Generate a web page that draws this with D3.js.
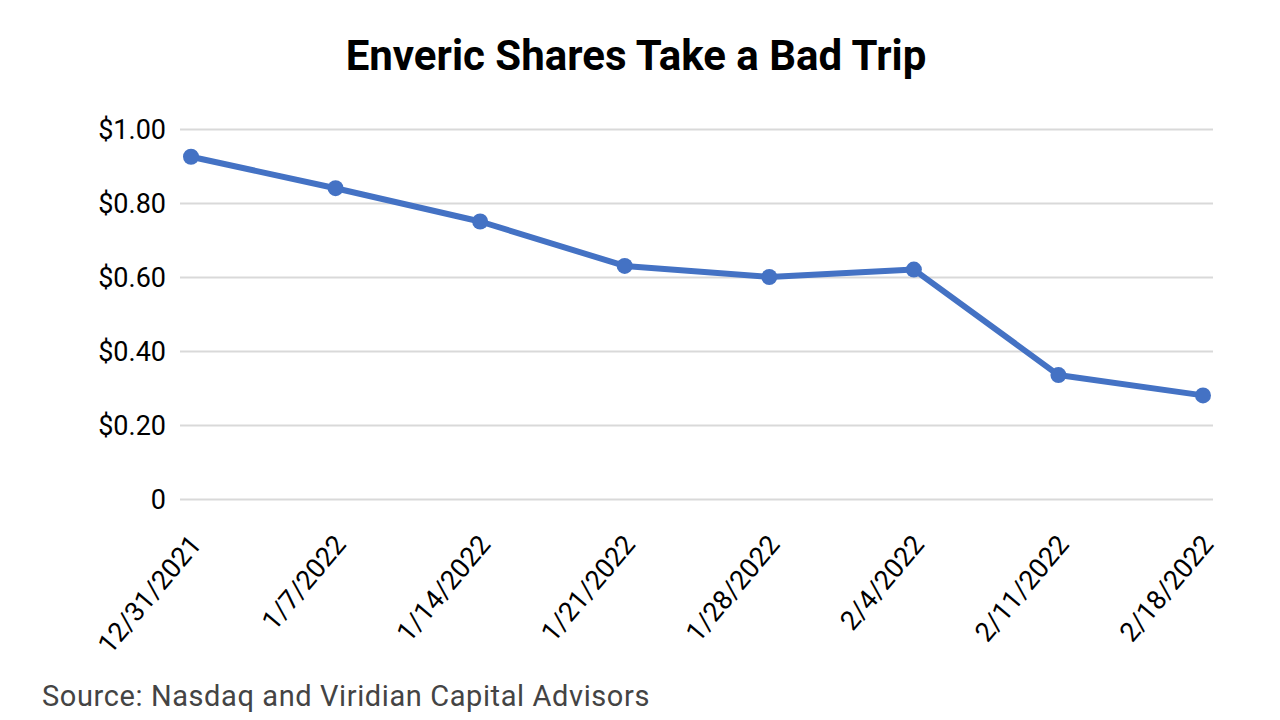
<!DOCTYPE html>
<html><head><meta charset="utf-8">
<script src="https://cdn.jsdelivr.net/npm/d3@7"></script>
<style>body{margin:0;background:#fff}</style>
</head><body>
<svg id="chart" width="1280" height="720"></svg>
<script>
// Enveric share price, weekly closes
const dates = ['12/31/2021','1/7/2022','1/14/2022','1/21/2022','1/28/2022','2/4/2022','2/11/2022','2/18/2022'];
const prices = [0.925, 0.84, 0.75, 0.63, 0.60, 0.62, 0.335, 0.28];
const yTicks = [0, 0.2, 0.4, 0.6, 0.8, 1.0];

const svg = d3.select('#chart');
const font = 'Roboto, "Open Sans", sans-serif';

const x = d3.scalePoint().domain(dates).range([191, 1203]);
const y = d3.scaleLinear().domain([0, 1]).range([499, 129]);

svg.append('text')
    .attr('x', 636).attr('y', 70)
    .attr('text-anchor', 'middle')
    .attr('font-family', font).attr('font-weight', 'bold').attr('font-size', 42)
    .text('Enveric Shares Take a Bad Trip');

// gridlines + y labels
const yAxis = svg.append('g')
    .attr('transform', 'translate(180,0)')
    .call(d3.axisLeft(y).tickValues(yTicks).tickSize(-1033)
        .tickFormat(d => d === 0 ? '0' : '$' + d.toFixed(2)));
yAxis.select('.domain').remove();
yAxis.selectAll('line').attr('stroke', '#d9d9d9').attr('stroke-width', 2);
yAxis.selectAll('text')
    .attr('x', -14).attr('dy', '0.35em')
    .attr('font-family', font).attr('font-size', 27).attr('fill', '#000');

// x labels, rotated
const xAxis = svg.append('g')
    .attr('transform', 'translate(0,499)')
    .call(d3.axisBottom(x).tickSize(0));
xAxis.select('.domain').remove();
xAxis.selectAll('text')
    .attr('font-family', font).attr('font-size', 27).attr('fill', '#000')
    .attr('text-anchor', 'end')
    .attr('transform', 'translate(4,40) rotate(-50)')
    .attr('dy', '0.35em').attr('y', 0);

const line = d3.line().x((d, i) => x(dates[i])).y(d => y(d));
svg.append('path')
    .datum(prices)
    .attr('d', line)
    .attr('fill', 'none')
    .attr('stroke', '#4472c4')
    .attr('stroke-width', 6)
    .attr('stroke-linejoin', 'round');

svg.append('g').selectAll('circle')
    .data(prices)
    .join('circle')
    .attr('cx', (d, i) => x(dates[i]))
    .attr('cy', d => y(d))
    .attr('r', 8)
    .attr('fill', '#4472c4');

svg.append('text')
    .attr('x', 42).attr('y', 706)
    .attr('font-family', font).attr('font-size', 29).attr('fill', '#444')
    .attr('letter-spacing', 0.6)
    .text('Source: Nasdaq and Viridian Capital Advisors');
</script>
</body></html>
